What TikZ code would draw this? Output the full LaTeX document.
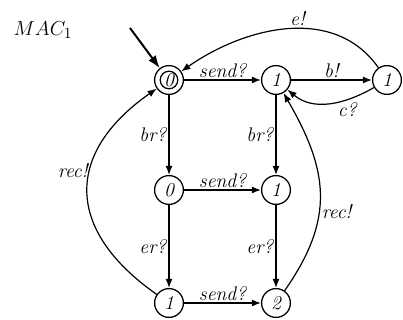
\documentclass[tikz,border=0pt]{standalone}
\usepackage{amsmath,amssymb}
\usetikzlibrary{arrows.meta,calc}

\begin{document}
\begin{tikzpicture}[>={Latex[length=6.5pt,width=5pt]},
  state/.style={circle,draw,line width=0.9pt,minimum size=0.72cm,inner sep=0pt,font=\fontsize{14}{16}\selectfont\itshape},
  lbl/.style={font=\fontsize{14}{16}\selectfont\itshape,inner sep=1.5pt},
  edge/.style={->,line width=0.85pt}]
  \useasboundingbox (0,0) rectangle (10.075,8);
  \node[font=\fontsize{15}{17}\selectfont] (title) at (1.075,7.25) {$MAC_1$};
  \node[state] (s0) at (4.225,6) {0};
  \node[state] (s1) at (6.9,6) {1};
  \node[state] (s2) at (9.675,6) {1};
  \node[state] (s3) at (4.225,3.25) {0};
  \node[state] (s4) at (6.9,3.25) {1};
  \node[state] (s5) at (4.225,0.425) {1};
  \node[state] (s6) at (6.9,0.425) {2};
  \draw[line width=0.9pt] (s0.center) circle (0.22);
  \coordinate (init) at (3.25,7.3);
  \draw[-{Latex[length=9pt,width=6.5pt]},line width=1.4pt] (init) -- (s0.128);
  \draw[edge] (s0) -- node[lbl,above]{send?} (s1);
  \draw[edge] (s1) -- node[lbl,above]{b!} (s2);
  \draw[edge] (s2) to[out=210,in=-40] node[lbl,below,pos=0.3]{c?} (s1);
  \draw[edge] (s2) to[out=125,in=35] node[lbl,above,pos=0.45]{e!} (s0);
  \draw[edge] (s0) -- node[lbl,left]{br?} (s3);
  \draw[edge] (s1) -- node[lbl,left]{br?} (s4);
  \draw[edge] (s3) -- node[lbl,above]{send?} (s4);
  \draw[edge] (s3) -- node[lbl,left]{er?} (s5);
  \draw[edge] (s4) -- node[lbl,left]{er?} (s6);
  \draw[edge] (s5) -- node[lbl,above]{send?} (s6);
  \draw[edge] (s5) to[out=145,in=-145,looseness=1.4] node[lbl,left,pos=0.6]{rec!} (s0);
  \draw[edge] (s6) to[out=55,in=-60,looseness=1.15] node[lbl,right,pos=0.4]{rec!} (s1);
\end{tikzpicture}
\end{document}
